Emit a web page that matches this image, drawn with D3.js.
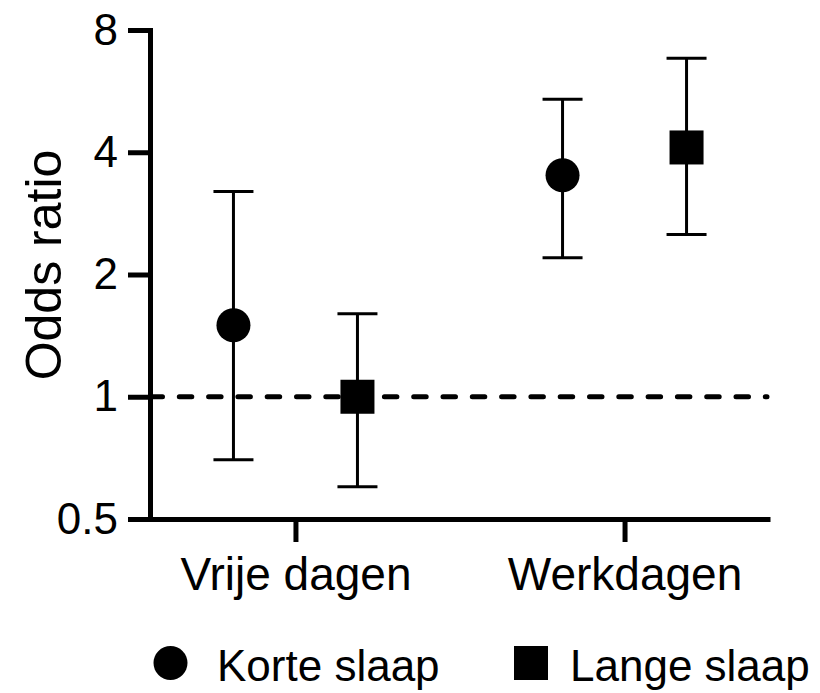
<!DOCTYPE html>
<html>
<head>
<meta charset="utf-8">
<script src="https://cdn.jsdelivr.net/npm/d3@7"></script>
<style>
  body { margin: 0; background: #fff; }
  svg text { font-family: Arial, "Liberation Sans", sans-serif; fill: #000; }
</style>
</head>
<body>
<div id="chart"></div>
<script>
// data
var categories = ["Vrije dagen", "Werkdagen"];
var series = ["Korte slaap", "Lange slaap"];
var oddsKort = [1.50, 3.51];
var lowKort = [0.70, 2.20];
var highKort = [3.20, 5.40];
var oddsLang = [1.00, 4.11];
var lowLang = [0.60, 2.51];
var highLang = [1.60, 6.82];
var yTicks = [0.5, 1, 2, 4, 8];

var width = 820, height = 693;

var svg = d3.select("#chart").append("svg")
    .attr("width", width)
    .attr("height", height);

var x = d3.scalePoint()
    .domain(categories)
    .range([150, 770])
    .padding(0.442);

var offset = d3.scalePoint()
    .domain(series)
    .range([-62, 62]);

var y = d3.scaleLog()
    .base(2)
    .domain([0.5, 8])
    .range([519, 30]);

var rows = [];
categories.forEach(function(c, i) {
  rows.push({cat: c, s: series[0], or: oddsKort[i], lo: lowKort[i], hi: highKort[i]});
  rows.push({cat: c, s: series[1], or: oddsLang[i], lo: lowLang[i], hi: highLang[i]});
});

// reference line at OR = 1
svg.append("line")
    .attr("x1", 150)
    .attr("x2", 767)
    .attr("y1", y(1))
    .attr("y2", y(1))
    .attr("stroke", "#000")
    .attr("stroke-width", 5)
    .attr("stroke-linecap", "round")
    .attr("stroke-dasharray", "12.5,16.8");

// error bars
var g = svg.selectAll(".bar")
    .data(rows)
    .enter().append("g")
    .attr("class", "bar")
    .attr("transform", function(d) { return "translate(" + (x(d.cat) + offset(d.s)) + ",0)"; });

g.append("line")
    .attr("x1", 0).attr("x2", 0)
    .attr("y1", function(d) { return y(d.hi); })
    .attr("y2", function(d) { return y(d.lo); })
    .attr("stroke", "#000").attr("stroke-width", 3);

g.append("line")
    .attr("x1", -20).attr("x2", 20)
    .attr("y1", function(d) { return y(d.hi); })
    .attr("y2", function(d) { return y(d.hi); })
    .attr("stroke", "#000").attr("stroke-width", 3);

g.append("line")
    .attr("x1", -20).attr("x2", 20)
    .attr("y1", function(d) { return y(d.lo); })
    .attr("y2", function(d) { return y(d.lo); })
    .attr("stroke", "#000").attr("stroke-width", 3);

// markers
g.filter(function(d) { return d.s == series[0]; })
    .append("circle")
    .attr("cx", 0)
    .attr("cy", function(d) { return y(d.or); })
    .attr("r", 17)
    .attr("fill", "#000");

g.filter(function(d) { return d.s == series[1]; })
    .append("rect")
    .attr("x", -17)
    .attr("y", function(d) { return y(d.or) - 17; })
    .attr("width", 34)
    .attr("height", 34)
    .attr("fill", "#000");

// axes
var yAxis = svg.append("g")
    .attr("transform", "translate(150,0)")
    .call(d3.axisLeft(y)
      .tickValues(yTicks)
      .tickFormat(function(d) { return String(d); })
      .tickSize(22)
      .tickPadding(10));

var xAxis = svg.append("g")
    .attr("transform", "translate(0,519)")
    .call(d3.axisBottom(x)
      .tickSize(23)
      .tickSizeOuter(0)
      .tickPadding(15));

[yAxis, xAxis].forEach(function(a) {
  a.selectAll("path, line")
    .attr("stroke", "#000")
    .attr("stroke-width", 5);
  a.selectAll("text")
    .style("font-family", "Arial, 'Liberation Sans', sans-serif")
    .style("font-size", "44px")
    .attr("fill", "#000");
});
xAxis.selectAll("text").style("font-size", "46px");

// y title
svg.append("text")
    .attr("transform", "translate(61,265) rotate(-90)")
    .attr("text-anchor", "middle")
    .style("font-size", "50px")
    .text("Odds ratio");

// legend
svg.append("circle")
    .attr("cx", 170.5)
    .attr("cy", 663)
    .attr("r", 17)
    .attr("fill", "#000");
svg.append("text")
    .attr("x", 217)
    .attr("y", 681)
    .style("font-size", "44px")
    .text(series[0]);

svg.append("rect")
    .attr("x", 514)
    .attr("y", 646)
    .attr("width", 34)
    .attr("height", 34)
    .attr("fill", "#000");
svg.append("text")
    .attr("x", 570)
    .attr("y", 681)
    .style("font-size", "44px")
    .text(series[1]);
</script>
</body>
</html>
